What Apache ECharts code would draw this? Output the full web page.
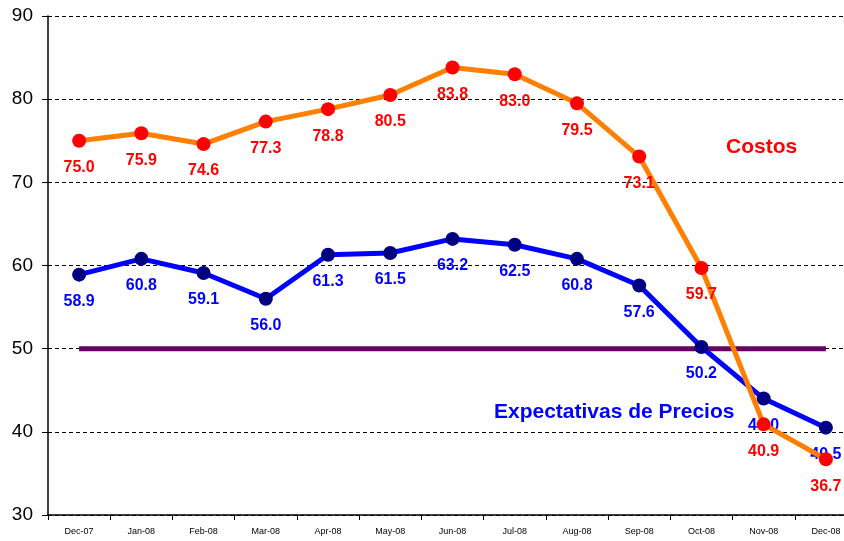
<!DOCTYPE html>
<html>
<head>
<meta charset="utf-8">
<script src="https://cdn.jsdelivr.net/npm/echarts@6/dist/echarts.min.js"></script>
<style>
  html,body{margin:0;padding:0;background:#fff;overflow:hidden;}
  #chart{width:857px;height:541px;}
</style>
</head>
<body>
<div id="chart"></div>
<script>
// meses
var meses = ['Dec-07','Jan-08','Feb-08','Mar-08','Apr-08','May-08','Jun-08','Jul-08','Aug-08','Sep-08','Oct-08','Nov-08','Dec-08']
// costos
var costos = [75.0, 75.9, 74.6, 77.3, 78.8, 80.5, 83.8, 83.0, 79.5, 73.1, 59.7, 40.9, 36.7]
// expectativas de precios
var expectativas = [58.9, 60.8, 59.1, 56.0, 61.3, 61.5, 63.2, 62.5, 60.8, 57.6, 50.2, 44.0, 40.5]
// linea de 50
var umbral = [50, 50, 50, 50, 50, 50, 50, 50, 50, 50, 50, 50, 50]

// el grafico original esta cortado a la derecha, por eso el div es mas ancho que la ventana
var myChart = echarts.init(document.getElementById('chart'))
var fuente = 'Liberation Sans, Arial, sans-serif'
function etiqueta(color) {
    return {
        show: true,
        position: 'bottom',
        distance: 12,
        color: color,
        fontWeight: 'bold',
        fontSize: 16,
        fontFamily: fuente,
        formatter: function (p) { return p.value.toFixed(1) }
    }
}
var option = {
    animation: false,
    grid: {
        left: 48,
        top: 16,
        right: 0,
        bottom: 26
    },
    xAxis: {
        type: 'category',
        data: meses,
        boundaryGap: true,
        axisLine: {lineStyle: {color: '#000', width: 1.5}},
        axisTick: {show: true, length: 5, lineStyle: {color: '#000'}},
        axisLabel: {color: '#000', fontSize: 9, fontFamily: fuente, margin: 12}
    },
    yAxis: {
        type: 'value',
        min: 30,
        max: 90,
        interval: 10,
        axisLine: {show: true, lineStyle: {color: '#000', width: 1.5}},
        axisTick: {show: true, length: 6, lineStyle: {color: '#000'}},
        axisLabel: {color: '#000', fontSize: 19, fontFamily: fuente, margin: 15},
        splitLine: {show: true, lineStyle: {color: '#000', type: [4, 3], width: 1}}
    },
    graphic: [
        {
            type: 'text',
            left: 726,
            top: 137,
            style: {text: 'Costos', fill: '#FF0000', font: 'bold 21px ' + fuente}
        },
        {
            type: 'text',
            left: 494,
            top: 402,
            style: {text: 'Expectativas de Precios', fill: '#0000FF', font: 'bold 21px ' + fuente}
        }
    ],
    series: [
        {
            name: 'umbral',
            type: 'line',
            data: umbral,
            symbol: 'none',
            lineStyle: {color: '#660066', width: 5},
            z: 1
        },
        {
            name: 'Expectativas de Precios',
            type: 'line',
            data: expectativas,
            symbol: 'circle',
            symbolSize: 14,
            itemStyle: {color: '#000080'},
            lineStyle: {color: '#0000FF', width: 5},
            label: etiqueta('#0000FF'),
            z: 2
        },
        {
            name: 'Costos',
            type: 'line',
            data: costos,
            symbol: 'circle',
            symbolSize: 14,
            itemStyle: {color: '#FF0000'},
            lineStyle: {color: '#FF7F00', width: 5},
            label: etiqueta('#FF0000'),
            z: 3
        }
    ]
};
myChart.setOption(option)
</script>
</body>
</html>
